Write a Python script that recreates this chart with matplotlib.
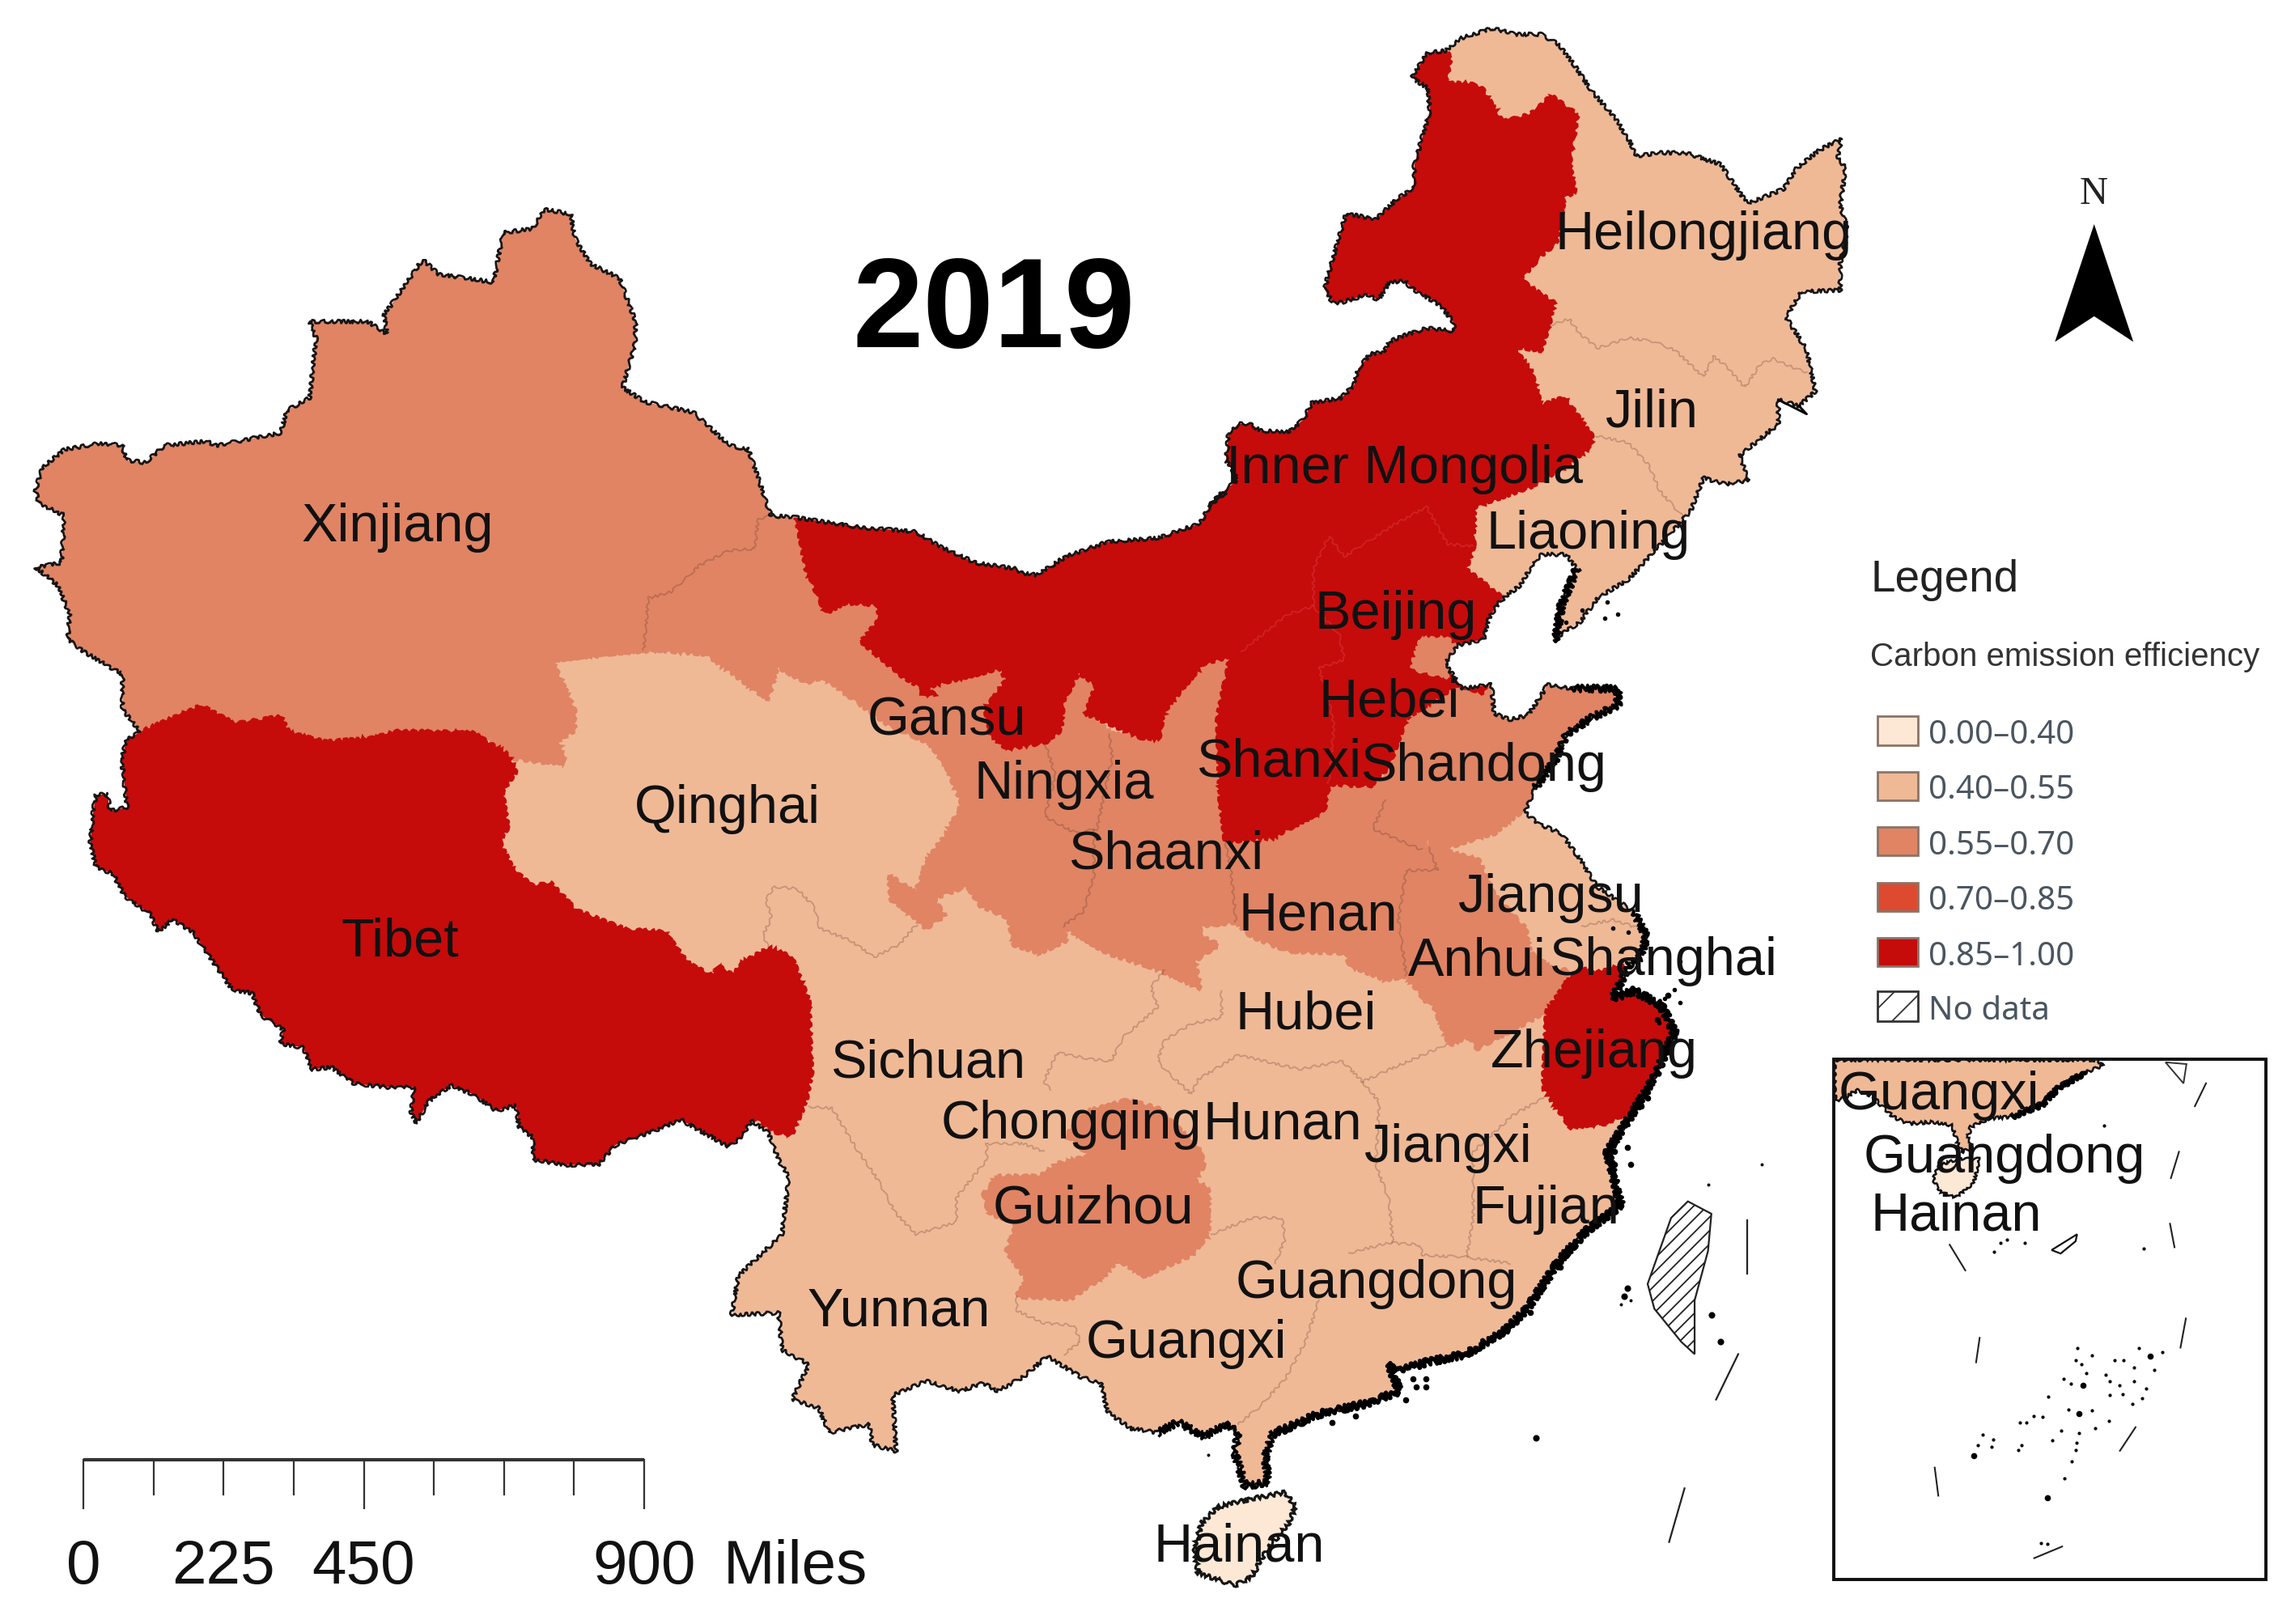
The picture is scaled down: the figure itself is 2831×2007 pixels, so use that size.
import matplotlib
matplotlib.use("Agg")
import matplotlib.pyplot as plt
from matplotlib.patches import Polygon, Rectangle

plt.rcParams['font.family'] = ['Liberation Sans', 'DejaVu Sans']
plt.rcParams['hatch.linewidth'] = 1.3

W, H = 2831, 2008

# ---- legend classes
class_labels = ['0.00–0.40', '0.40–0.55', '0.55–0.70', '0.70–0.85', '0.85–1.00']
class_colors = ['#FDE8D5', '#EFB996', '#E08464', '#DD4A30', '#C60B0B']
LIGHT, MID, DARK = class_colors[1], class_colors[2], class_colors[4]

# ---- crop frames: map geometry was read on these frames (x0, y0, sx, sy)
F3 = (1100, 500, 1.568, 1.96)
F4 = (900, 1200, 1.206, 1.96)
F5 = (1700, 0, 1.568, 1.96)
F6 = (1450, 230, 3.0, 3.0)
F7 = (0, 230, 1.2544, 1.96)
F8 = (80, 800, 1.4255, 2.24)
F2 = (2250, 1290, 2.7, 2.306)


def geo(frame, pts):
    x0, y0, sx, sy = frame
    return [(x0 + a / sx, y0 + b / sy) for a, b in pts]


# ---- mainland outline arcs
coast_northeast = [(100,130),(135,125),(165,95),(225,70),(270,85),(320,85),(355,110),(385,160),(420,225),(465,290),(490,340),(505,380),(550,372),(600,372),(668,400),(695,450),(720,495),(790,460),(815,410),(860,365),(903,338),(895,380),(910,410),(900,500),(915,560),(900,640),(900,705),(825,708),(795,770),(835,850),(852,950),(820,985),(780,970),(780,1030),(750,1060),(705,1105),(722,1165),(680,1175),(635,1160),(610,1240),(560,1310),(490,1405),(430,1450),(395,1510),(345,1550)]
coast_bohai_east = [(1290,575),(1300,490),(1330,400),(1310,365),(1260,365),(1240,400),(1220,440),(1180,480),(1160,520),(1150,570),(1100,585),(1075,630),(1095,665),(1110,690),(1165,680),(1170,750),(1200,765),(1235,755),(1270,690),(1270,680),(1320,690),(1410,690),(1410,730),(1360,760),(1310,800),(1290,860),(1250,930),(1230,990),(1260,1020),(1300,1040),(1340,1110),(1370,1170),(1440,1230),(1465,1290),(1455,1340),(1430,1360),(1420,1390),(1400,1440)]
coast_southeast = [(1318,69),(1350,50),(1390,85),(1410,150),(1380,260),(1350,340),(1310,440),(1330,570),(1280,630),(1240,700),(1190,820),(1160,870),(1100,930),(1040,950),(1000,970),(985,955),(1000,1020),(950,1050),(880,1075),(810,1125),(800,1180),(805,1240),(770,1250),(755,1170),(760,1120),(740,1100),(710,1130),(670,1095),(640,1120),(600,1110),(565,1070),(555,1000),(525,985),(475,935),(440,985),(400,1020),(380,1000),(345,1020),(295,995),(245,1030),(250,1165),(215,1150),(210,1100),(150,1120),(135,1060),(95,1040),(120,955),(80,920),(75,830),(5,835),(15,740),(80,640),(90,500),(75,460),(60,395),(35,365)]
border_tibet_south = [(1190,1360),(1170,1385),(1130,1350),(1085,1310),(1040,1340),(970,1380),(940,1435),(880,1435),(825,1420),(825,1360),(800,1330),(795,1270),(760,1285),(720,1240),(680,1215),(640,1260),(620,1320),(610,1290),(615,1220),(570,1220),(510,1210),(470,1165),(435,1170),(420,1110),(380,1100),(385,1060),(345,1020),(330,960),(295,950),(260,870),(225,790),(190,755),(165,790),(150,740),(105,690),(85,630),(55,610),(45,545),(50,460),(55,410),(75,410),(80,455),(110,445),(100,310),(110,255),(130,240)]
border_xinjiang_north = [(215,1320),(190,1270),(190,1185),(130,1130),(105,1100),(108,1040),(90,970),(55,925),(95,915),(100,800),(60,770),(55,740),(65,685),(100,640),(155,625),(190,630),(195,665),(225,672),(255,630),(320,620),(335,630),(435,600),(445,545),(480,515),(490,370),(480,330),(570,330),(600,360),(595,315),(655,180),(680,215),(765,235),(780,115),(825,105),(845,58),(885,70),(890,125),(915,190),(960,225),(985,330),(985,380),(965,490),(1000,525),(1075,550),(1130,630),(1160,640),(1195,800),(1235,805),(1340,830)]
border_gansu_im_north = [(0,305),(50,310),(95,345),(165,385),(245,400),(255,410),(285,415),(340,370),(420,335),(520,325),(600,290),(625,235),(650,215)]
border_im_north = [(130,1190),(180,1140),(240,1090),(195,1020),(205,920),(240,885),(290,885),(320,910),(425,915),(480,870),(515,805),(620,790),(670,740),(685,680),(730,625),(780,620),(800,580),(860,555),(940,530),(1040,540),(1040,510),(990,445),(880,380),(860,355),(800,360),(760,425),(720,405),(620,435),(590,435),(560,385),(580,310),(640,105),(750,125),(830,50),(890,10)]
border_hulunbuir = [(75,400),(105,270),(100,215),(70,190)]

mainland = (geo(F5, coast_northeast) + geo(F3, coast_bohai_east) + geo(F4, coast_southeast)
            + geo(F8, border_tibet_south) + geo(F7, border_xinjiang_north)
            + geo(F3, border_gansu_im_north) + geo(F6, border_im_north) + geo(F5, border_hulunbuir))

# ---- provinces that differ from the light base colour (may overshoot; clipped by the mainland)
xinjiang = [(0,0),(1195,0),(1195,800),(1175,810),(1170,880),(1130,885),(1085,920),(1040,985),(1005,1000),(998,1125),(855,1150),(890,1270),(890,1320),(865,1345),(875,1400),(830,1395),(785,1385),(750,1330),(690,1320),(620,1320),(590,1350),(560,1340),(500,1350),(440,1320),(410,1285),(370,1305),(310,1260),(270,1300),(215,1320),(0,1320)]
gansu_north = [(1195,790),(1300,790),(1560,1200),(1560,1568),(1440,1350),(1380,1310),(1310,1230),(1275,1190),(1250,1205),(1205,1165),(1190,1245),(1130,1175),(1095,1135),(1020,1125),(930,1135),(855,1150),(998,1125),(1005,1000),(1040,985),(1085,920),(1130,885),(1170,880),(1175,810)]
gansu_south = [(20,770),(85,680),(250,800),(430,800),(395,960),(395,1140),(375,1230),(335,1265),(340,1300),(290,1330),(240,1310),(230,1245),(175,1215),(150,1168),(100,1190),(85,1200),(105,1240),(70,1270),(20,1215),(0,1200),(0,1145),(50,1185),(70,1110),(110,1040),(140,970),(110,880),(70,810)]
ningxia = [(365,650),(335,720),(330,790),(225,835),(300,1000),(360,1040),(400,1030),(430,860),(430,800),(380,750),(400,680)]
shaanxi = [(660,610),(605,630),(530,745),(520,810),(430,800),(395,960),(395,1140),(375,1230),(335,1265),(420,1330),(520,1370),(600,1415),(590,1350),(635,1310),(600,1290),(600,1265),(670,1255),(660,1130),(650,1060),(660,950),(640,770)]
henan = [(650,1060),(740,1050),(840,985),(850,920),(930,925),(960,905),(960,960),(935,1030),(1030,1080),(1050,1075),(1060,1130),(1000,1130),(985,1250),(1000,1290),(1000,1385),(960,1395),(890,1360),(885,1330),(770,1325),(700,1290),(670,1255),(660,1130)]
shandong = [(965,880),(1000,760),(1100,680),(1420,650),(1430,800),(1225,985),(1170,1040),(1140,1050),(1080,1075),(1045,1040),(1030,1080),(935,1030),(960,960)]
anhui_north = [(1045,1045),(1080,1085),(1140,1105),(1170,1190),(1230,1270),(1240,1330),(1311,1395),(1270,1450),(1040,1450),(1000,1385),(1000,1290),(985,1250),(1000,1130),(1060,1130),(1050,1075)]
anhui_south = [(1250,0),(1250,30),(1220,100),(1115,190),(1105,160),(1075,180),(1050,80),(1040,0)]
guizhou = [(540,450),(490,470),(465,500),(400,500),(380,545),(390,590),(430,610),(415,680),(445,750),(430,790),(510,795),(560,740),(580,700),(620,740),(690,690),(715,640),(715,530),(695,510),(710,470),(700,430),(640,335),(595,315),(530,345),(505,400)]
tianjin = [(1010,640),(1030,570),(1080,570),(1095,590),(1075,630),(1080,660),(1040,650)]
tibet = [(130,240),(240,165),(300,215),(380,195),(395,240),(460,265),(540,255),(590,235),(720,240),(780,300),(795,345),(770,400),(780,500),(765,540),(790,620),(825,665),(855,655),(900,730),(990,785),(1055,790),(1100,880),(1145,915),(1150,885),(1180,910),(1190,880),(1240,835),(1280,860),(1310,980),(1315,1180),(1305,1260),(1280,1350),(1255,1345),(1210,1300),(1200,1568),(0,1568),(0,240)]
im_west = [(1235,700),(1235,805),(1250,930),(1280,1035),(1310,1010),(1360,1015),(1365,1050),(1335,1105),(1400,1190),(1450,1235)]
im_south = [(60,700),(85,680),(150,660),(215,640),(225,670),(185,740),(195,800),(225,835),(300,820),(330,790),(335,720),(365,650),(400,680),(380,750),(490,810),(520,810),(530,745),(605,630),(660,610),(680,600),(770,510),(820,490),(820,400),(850,320),(880,370),(980,290),(1040,250),(1080,340),(1130,345),(1131,250)]
im_east = [(300,1180),(370,1130),(415,1085),(420,1060),(365,965),(320,985),(300,900),(265,840),(320,850),(335,790),(345,735),(325,720),(280,680),(320,620),(350,590),(365,480),(385,465),(375,400),(390,280),(340,235),(300,280),(245,298),(205,215),(180,205),(135,205),(145,140),(135,125),(100,50)]
shanxi = [(660,610),(680,600),(770,510),(820,490),(870,560),(880,620),(830,640),(850,720),(860,780),(850,920),(840,985),(740,1050),(650,1060),(640,960),(635,760)]
hebei = [(820,490),(820,400),(850,320),(880,370),(980,290),(1040,250),(1080,340),(1130,345),(1115,400),(1185,470),(1150,700),(1100,680),(1000,760),(965,880),(930,925),(850,920),(860,780),(850,720),(830,640),(880,620),(870,560)]
zhejiang = [(1250,30),(1330,-10),(1440,30),(1440,260),(1340,345),(1310,370),(1255,380),(1215,285),(1220,100)]
zhejiang_north = [(1311,1395),(1340,1370),(1415,1390),(1400,1440),(1311,1480)]

# ---- thin inner borders
line_hlj_jilin = [(335,790),(375,775),(395,810),(430,845),(490,820),(540,830),(580,850),(635,915),(655,865),(680,890),(715,940),(745,885),(770,870),(785,880),(835,905)]
line_jilin_liaoning = [(420,1055),(490,1075),(530,1130),(550,1190),(585,1240),(600,1260)]
line_qinghai_sichuan = [(1240,835),(1230,800),(1245,750),(1235,700),(1250,665),(1290,670),(1320,720),(1330,780),(1385,815),(1425,860),(1470,825),(1500,770)]
line_sichuan_yunnan = [(120,330),(155,335),(190,430),(220,500),(250,590),(280,640),(340,610),(340,550),(385,460),(385,420),(440,420),(470,440)]
line_sichuan_chongqing = [(480,290),(470,270),(490,200),(540,215),(570,220),(590,160),(640,90),(630,40),(650,0)]
line_chongqing_hubei = [(735,50),(735,115),(690,130),(650,170),(640,220),(650,240),(690,300),(700,265),(760,205),(850,240),(915,220),(945,270),(1000,230),(1070,180)]
line_hunan_jiangxi = [(945,270),(970,320),(965,470),(985,560),(990,660)]
line_hunan_guangxi = [(720,640),(780,600),(825,600),(830,650),(815,710)]
line_hunan_guangdong = [(925,685),(985,660),(1030,665),(1035,690),(1100,695),(1165,710)]
line_fujian_jiangxi = [(1215,310),(1170,350),(1110,440),(1110,600),(1100,695)]
line_guangxi_guangdong = [(880,800),(860,900),(830,990),(790,1060),(760,1100)]
line_guangxi_yunnan = [(430,790),(430,825),(470,855),(515,860),(525,900),(500,930)]
line_gansu_xinjiang = [(1195,800),(1175,810),(1170,880),(1130,885),(1085,920),(1040,985),(1005,1000),(998,1125)]
line_ningxia = [(300,820),(320,900),(300,1000),(360,1040),(400,1030),(430,860),(425,800)]
line_gansu_shaanxi = [(395,1030),(395,1140),(375,1230),(335,1265)]
line_shaanxi_henan = [(650,1060),(660,1130),(670,1255)]
line_henan_shandong = [(960,960),(935,1030),(1030,1080)]
line_henan_anhui = [(1045,1075),(1060,1130),(1000,1130),(985,1250),(1000,1385)]
line_dark_hebei = [(820,490),(820,400),(850,320),(880,370),(980,290),(1040,250),(1080,340),(1130,345)]
line_dark_shanxi = [(680,600),(770,510),(820,490),(870,560),(880,620),(830,640),(850,720),(860,780),(850,920)]
line_jiangsu_shanghai = [(1340,1265),(1400,1250),(1450,1270)]

# ---- islands, Taiwan, Hainan, dashes
hainan = [(830,1265),(845,1300),(835,1340),(800,1410),(780,1470),(755,1490),(700,1460),(695,1400),(705,1340),(730,1300),(780,1280)]
taiwan = [(1430,560),(1465,590),(1460,680),(1440,800),(1440,930),(1420,900),(1380,820),(1370,760),(1405,600)]
dash_a = [(1518,605),(1518,735)]
dash_b = [(1505,930),(1472,1040)]
dash_c = [(1425,1255),(1402,1385)]
islands_south = [(1310,450),(1320,440),(1340,430),(1345,470),(1330,570),(1310,600),(1230,710),(1195,830),(1020,990),(1040,990),(1010,1040),(935,1080),(900,1095),(1405,130),(1400,60),(1385,120),(1360,330),(1370,310),(1025,1010),(1040,1010),(1320,470),(1300,600),(1250,690),(1240,720),(1180,840),(1165,860),(960,1040)]
islands_far = [(1340,770),(1335,790),(1478,900),(1465,835),(1203,1133)]
islands_tiny = [(1540,470),(1460,520),(715,1175),(1330,810),(1345,800)]
islands_north = [(1340,500),(1390,480),(1410,510),(1385,520),(1300,500),(1310,530),(1290,550),(1410,710),(1400,735),(1350,770),(1320,790),(1500,1440),(1530,1450),(1510,1480),(1490,1500),(1520,1420),(1530,1350),(1400,1270),(1430,1280),(1460,1300)]
dongnan_hook = [(780,970),(835,1005),(820,985)]

# ---- inset geometry
inset_land = [(45,48),(925,48),(940,65),(880,85),(790,130),(740,175),(640,210),(560,215),(500,240),(490,270),(510,300),(470,310),(450,270),(440,235),(370,225),(290,230),(240,210),(210,185),(170,150),(120,135),(60,165),(45,150)]
inset_hainan = [(530,330),(510,400),(450,440),(400,425),(375,390),(390,350),(460,330)]
inset_taiwan_tip = [(1150,55),(1210,115),(1220,60)]
inset_reef = [(770,590),(855,545),(850,565),(800,600)]
inset_dashes = [[(1285,115),(1248,180)],[(1195,310),(1168,385)],[(1165,515),(1180,582)],[(1218,785),(1200,868)],[(430,575),(482,648)],[(530,840),(518,910)],[(1050,1095),(998,1162)],[(380,1210),(392,1290)],[(805,1435),(712,1468)]]
inset_thick_coast = [(880,85),(790,130),(740,175),(640,210)]
inset_dots = [(945,235),(1078,585),(620,560),(600,570),(680,570),(578,595),(855,870),(905,890),(850,905),(870,915),(885,940),(835,970),(810,957),(760,1008),(980,905),(1010,905),(1045,925),(1062,870),(1140,880),(1112,932),(950,945),(965,965),(997,975),(1045,965),(1085,985),(965,1003),(1008,1000),(1040,1028),(1072,1012),(825,1045),(905,1047),(740,1065),(710,1062),(665,1082),(685,1082),(960,1077),(915,1097),(860,1112),(803,1105),(772,1132),(852,1140),(850,1160),(670,1145),(660,1160),(575,1130),(540,1115),(525,1145),(570,1150),(838,1192),(812,1240),(735,1425),(755,1428)]
inset_big_dots = [(875,975),(1100,892),(860,1055),(510,1175),(757,1295)]
inset_box = [(42,45),(1485,1530)]

# ---- labels: name, centre on the 1568-wide view
main_labels = ['Heilongjiang','Jilin','Inner Mongolia','Liaoning','Xinjiang','Beijing','Hebei','Gansu','Shanxi','Shandong','Ningxia','Qinghai','Shaanxi','Jiangsu','Henan','Tibet','Anhui','Shanghai','Hubei','Zhejiang','Sichuan','Chongqing','Hunan','Jiangxi','Guizhou','Fujian','Guangdong','Yunnan','Guangxi','Hainan']
main_label_x = [1166,1130,961,1087,272,955,951,648,875,1015,728,498,798,1061,902,274,1011,1138,894,1091,635,733,878,991,748,1058,942,615,812,848]
main_label_y = [161,283,321,366,361,421,481,494,522,525,537,554,585,615,627,645,658,658,695,721,728,770,770,786,828,828,879,898,920,1059]
inset_labels = ['Guangxi','Guangdong','Hainan']
inset_label_x = [1327,1372,1339]
inset_label_y = [750,793,833]

# ---- scale bar (miles)
scale_ticks = [0, 112.5, 225, 337.5, 450, 562.5, 675, 787.5, 900]
scale_long = [0, 450, 900]
scale_labels = [0, 225, 450, 900]

# ---- legend rows and north arrow
legend_top = [570, 735, 900, 1065, 1230, 1390]
legend_bottom = [655, 820, 985, 1150, 1315, 1478]
north_arrow = [(1392,545),(1468,830),(1392,768),(1316,830)]

fig = plt.figure(figsize=(W / 100, H / 100), dpi=100, facecolor='white')
ax = fig.add_axes([0, 0, 1, 1])
ax.set_xlim(0, W)
ax.set_ylim(H, 0)
ax.axis('off')

base = Polygon(mainland, closed=True, fc=LIGHT, ec='none', zorder=1)
ax.add_patch(base)


def fill(pts, color):
    # the same-coloured edge closes hairline gaps between crinkled neighbours
    p = Polygon(pts, closed=True, fc=color, ec=color, lw=3, zorder=2)
    ax.add_patch(p)
    p.set_clip_path(base)
    p.set_sketch_params(scale=2.0, length=14, randomness=5)


for pts, c in [(geo(F7, xinjiang), MID), (geo(F7, gansu_north), MID), (geo(F3, gansu_south), MID),
               (geo(F3, ningxia), MID), (geo(F3, shaanxi), MID), (geo(F3, henan), MID),
               (geo(F3, shandong), MID), (geo(F3, anhui_north), MID), (geo(F4, anhui_south), MID),
               (geo(F4, guizhou), MID), (geo(F8, tibet), DARK),
               (geo(F7, im_west) + geo(F3, im_south) + geo(F5, im_east), DARK),
               (geo(F3, shanxi), DARK), (geo(F3, hebei), DARK), (geo(F3, tianjin), MID),
               (geo(F4, zhejiang), DARK), (geo(F3, zhejiang_north), DARK)]:
    fill(pts, c)


def inner(frame, pts, color='#5a3020', alpha=0.27, lw=1.3):
    xy = geo(frame, pts)
    ln, = ax.plot(*zip(*xy), color=color, alpha=alpha, lw=lw, zorder=3)
    ln.set_clip_path(base)
    ln.set_sketch_params(scale=1.5, length=16, randomness=5)


for fr, l in [(F5, line_hlj_jilin), (F5, line_jilin_liaoning), (F8, line_qinghai_sichuan),
              (F4, line_sichuan_yunnan), (F4, line_sichuan_chongqing), (F4, line_chongqing_hubei),
              (F4, line_hunan_jiangxi), (F4, line_hunan_guangxi), (F4, line_hunan_guangdong),
              (F4, line_fujian_jiangxi), (F4, line_guangxi_guangdong), (F4, line_guangxi_yunnan),
              (F7, line_gansu_xinjiang), (F3, line_ningxia), (F3, line_gansu_shaanxi),
              (F3, line_shaanxi_henan), (F3, line_henan_shandong), (F3, line_henan_anhui),
              (F3, line_jiangsu_shanghai)]:
    inner(fr, l)
for l in (line_dark_hebei, line_dark_shanxi):
    inner(F3, l, color='#E86060', alpha=0.28)

# outlines: thin and crinkled inland, heavier on the south-east coast
edge = Polygon(mainland, closed=True, fc='none', ec='#151515', lw=1.9, zorder=4, joinstyle='round')
ax.add_patch(edge)
edge.set_sketch_params(scale=2.2, length=14, randomness=6)
for frame, arc, lw in [(F4, coast_southeast[:20], 3.4), (F4, coast_southeast[19:29], 2.4),
                       (F3, coast_bohai_east[-6:], 2.6),
                       (F3, coast_bohai_east[0:3], 3.0), (F3, coast_bohai_east[20:27], 2.6)]:
    ln, = ax.plot(*zip(*geo(frame, arc)), color='black', lw=lw, zorder=4)
    ln.set_sketch_params(scale=4.5, length=9, randomness=5)
ax.plot(*zip(*geo(F5, dongnan_hook)), color='black', lw=2, zorder=4)
hn = Polygon(geo(F4, hainan), closed=True, fc=class_colors[0], ec='#151515', lw=2.2, zorder=4)
ax.add_patch(hn)
hn.set_sketch_params(scale=2.5, length=12, randomness=5)
tw = Polygon(geo(F4, taiwan), closed=True, fc='white', ec='#222222', lw=1.6, hatch='//', zorder=4)
ax.add_patch(tw)
for d in (dash_a, dash_b, dash_c):
    ax.plot(*zip(*geo(F4, d)), color='#222222', lw=1.6, zorder=4)
ax.scatter(*zip(*geo(F4, islands_south)), s=30, color='black', linewidths=0, zorder=4)
ax.scatter(*zip(*geo(F4, islands_far)), s=34, color='black', linewidths=0, zorder=4)
ax.scatter(*zip(*geo(F4, islands_tiny)), s=8, color='black', linewidths=0, zorder=4)
ax.scatter(*zip(*geo(F3, islands_north)), s=16, color='black', linewidths=0, zorder=4)

# inset
(bx0, by0), (bx1, by1) = geo(F2, inset_box)
box = Rectangle((bx0, by0), bx1 - bx0, by1 - by0, fc='white', ec='#111111', lw=2.6, zorder=5)
ax.add_patch(box)
land = Polygon(geo(F2, inset_land), closed=True, fc=LIGHT, ec='#111111', lw=1.8, zorder=5.1)
ax.add_patch(land)
land.set_clip_path(box)
land.set_sketch_params(scale=2, length=12, randomness=5)
ln, = ax.plot(*zip(*geo(F2, inset_thick_coast)), color='black', lw=3.5, zorder=5.1)
ln.set_sketch_params(scale=3, length=8, randomness=5)
ih = Polygon(geo(F2, inset_hainan), closed=True, fc=class_colors[0], ec='#111111', lw=1.8, zorder=5.1)
ax.add_patch(ih)
ih.set_sketch_params(scale=1.5, length=10, randomness=5)
ax.add_patch(Polygon(geo(F2, inset_taiwan_tip), closed=True, fc='white', ec='#333333', lw=1.4, zorder=5.1))
ax.add_patch(Polygon(geo(F2, inset_reef), closed=True, fc='white', ec='#111111', lw=1.6, zorder=5.1))
for d in inset_dashes:
    ax.plot(*zip(*geo(F2, d)), color='#222222', lw=1.5, zorder=5.1)
ax.scatter(*zip(*geo(F2, inset_dots)), s=9, color='black', linewidths=0, zorder=5.1)
ax.scatter(*zip(*geo(F2, inset_big_dots)), s=30, color='black', linewidths=0, zorder=5.1)
box_line = Rectangle((bx0, by0), bx1 - bx0, by1 - by0, fc='none', ec='#111111', lw=2.6, zorder=5.2)
ax.add_patch(box_line)

# labels
k = W / 1568
for n, x, y in zip(main_labels + inset_labels, main_label_x + inset_label_x, main_label_y + inset_label_y):
    ax.text(x * k, y * k, n, fontsize=48, color='#111111', ha='center', va='center', zorder=6)
ax.text(680 * k, 215 * k, '2019', fontsize=113, fontweight='bold', color='black', ha='center', va='center', zorder=6)

# north arrow
ax.add_patch(Polygon(geo(F5, north_arrow), closed=True, fc='black', ec='none', zorder=6))
ax.text(1433 * k, 133 * k, 'N', fontsize=35, family='Liberation Serif', color='#222222', ha='center', va='center', zorder=6)

# legend
ax.text(1280 * k, 397 * k, 'Legend', fontsize=39.5, color='#222222', ha='left', va='center', zorder=6)
ax.text(1280 * k, 450 * k, 'Carbon emission efficiency', fontsize=29, color='#333333', ha='left', va='center', zorder=6)
lx0, lx1 = 2250 + 190 / 2.7, 2250 + 325 / 2.7
for i, (t, b) in enumerate(zip(legend_top, legend_bottom)):
    y0, y1 = 650 + t / 2.412, 650 + b / 2.412
    if i < 5:
        ax.add_patch(Rectangle((lx0, y0), lx1 - lx0, y1 - y0, fc=class_colors[i], ec='#8a7468', lw=2, zorder=6))
        txt = class_labels[i]
    else:
        ax.add_patch(Rectangle((lx0, y0), lx1 - lx0, y1 - y0, fc='white', ec='#333333', lw=2, hatch='/', zorder=6))
        txt = 'No data'
    ax.text(2250 + 358 / 2.7, (y0 + y1) / 2 + 5, txt, fontsize=29, family='Noto Sans', color='#4a5560', ha='left', va='center', zorder=6)

# scale bar
sx0, sx1, sy = 103, 796, 1805
sc = lambda v: sx0 + v * (sx1 - sx0) / scale_ticks[-1]
ax.plot([sc(0), sc(900)], [sy, sy], color='#333333', lw=3, zorder=6, solid_capstyle='butt')
for v in scale_ticks:
    ax.plot([sc(v), sc(v)], [sy, 1865 if v in scale_long else 1848], color='#333333', lw=1.6, zorder=6)
for v in scale_labels:
    ax.text(sc(v), 1938, str(v), fontsize=55, color='#111111', ha='center', va='center', zorder=6)
ax.text(983, 1938, 'Miles', fontsize=55, color='#111111', ha='center', va='center', zorder=6)

fig.savefig('out.png', dpi=100, facecolor='white')
